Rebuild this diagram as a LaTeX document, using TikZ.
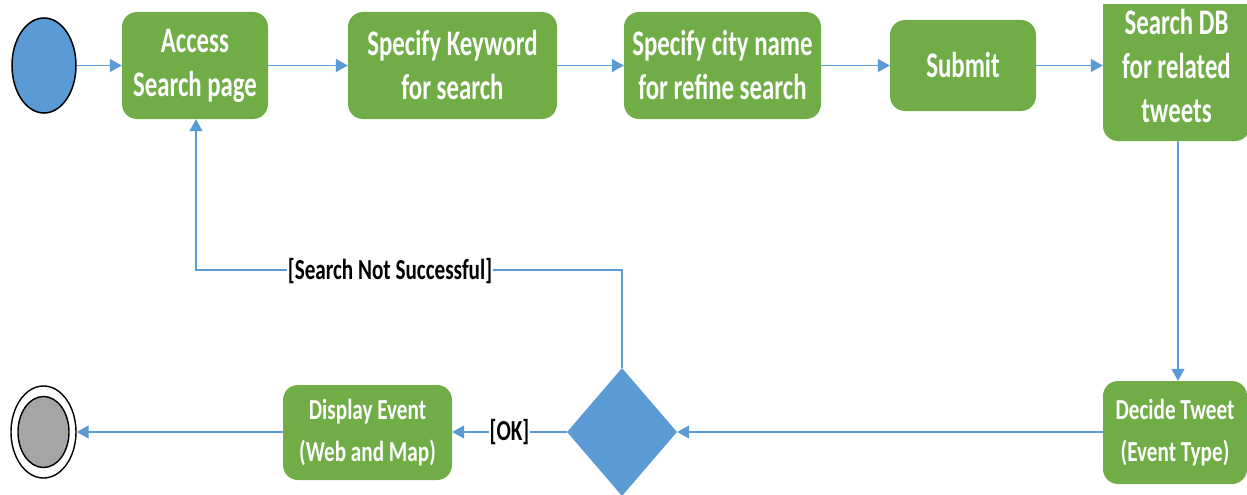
\documentclass[tikz,border=0pt]{standalone}
\usepackage{fontspec}
\setmainfont{Carlito}
\newfontfamily\boxfont{Carlito}[FakeStretch=0.69]
\newfontfamily\smallfont{Carlito}[FakeStretch=0.73]
\usetikzlibrary{shapes.geometric,arrows.meta}
\definecolor{actgreen}{RGB}{112,173,71}
\definecolor{flowblue}{RGB}{91,155,213}
\definecolor{endgray}{RGB}{165,165,165}
\tikzset{
  activity/.style={rectangle, rounded corners=15pt, fill=actgreen, text=white,
    align=center, inner sep=0pt,
    font=\boxfont\bfseries\fontsize{36}{44}\selectfont},
  smallact/.style={activity, font=\smallfont\bfseries\fontsize{29}{42}\selectfont},
  flow/.style={draw=flowblue, line width=1.6pt,
    -{Triangle[length=12pt,width=13pt]}},
  guard/.style={fill=white, inner sep=1pt, text=black,
    font=\smallfont\bfseries\fontsize{29}{34}\selectfont}
}
\begin{document}
\begin{tikzpicture}[x=1pt,y=-1pt]
\useasboundingbox (0,0) rectangle (1247,495);
\fill[white] (0,0) rectangle (1247,495);

% initial and final states
\node[ellipse, draw=black, line width=1.5pt, fill=flowblue,
  minimum width=64pt, minimum height=95pt, inner sep=0pt] (start) at (44,65.5) {};
\node[ellipse, draw=black, line width=1.4pt, fill=white,
  minimum width=65pt, minimum height=92pt, inner sep=0pt] (final) at (43.5,432) {};
\node[ellipse, draw=black, line width=1.4pt, fill=endgray,
  minimum width=51pt, minimum height=71pt, inner sep=0pt] (finalin) at (43.5,432) {};

% activities along the top row
\node[activity, minimum width=146pt, minimum height=107pt] (access) at (195,65.5)
  {Access\\Search page};
\node[activity, minimum width=209pt, minimum height=107pt] (keyword) at (452.5,65.5)
  {Specify Keyword\\for search};
\node[activity, minimum width=197pt, minimum height=107pt] (city) at (722.5,65.5)
  {Specify city name\\for refine search};
\node[activity, minimum width=146pt, minimum height=91pt] (submit) at (963,65.5)
  {Submit};
\begin{scope}
  \clip (1090,5) rectangle (1260,160);
  \node[activity, minimum width=147pt, minimum height=150pt] (searchdb) at (1176.5,66)
    {Search DB\\for related\\tweets};
\end{scope}

% bottom row
\node[smallact, minimum width=144pt, minimum height=103pt] (decide) at (1175,432.5)
  {Decide Tweet\\(Event Type)};
\node[diamond, fill=flowblue, minimum width=110pt, minimum height=128pt,
  inner sep=0pt] (choice) at (622,432) {};
\node[smallact, minimum width=169pt, minimum height=95pt] (display) at (367.5,432.5)
  {Display Event\\(Web and Map)};

% control flow
\draw[flow] (start.east) -- (access.west);
\draw[flow] (access.east) -- (keyword.west);
\draw[flow] (keyword.east) -- (city.west);
\draw[flow] (city.east) -- (submit.west);
\draw[flow] (submit.east) -- (searchdb.west |- submit.east);
\coordinate (dbfoot) at (1178,141);
\draw[flow] (dbfoot) -- (dbfoot |- decide.north);
\draw[flow] (decide.west |- choice.east) -- (choice.east);
\draw[flow] (choice.west) -- node[guard] (ok) {[OK]} (display.east |- choice.west);
\draw[flow] (display.west |- final.east) -- (final.east);

% retry loop back to the search page
\coordinate (loopR) at (622,270);
\coordinate (loopL) at (196,270);
\draw[draw=flowblue, line width=1.2pt, -{Triangle[length=12pt,width=13pt]}]
  (choice.north) -- (loopR) -- (loopL) -- (loopL |- access.south);
\node[guard] (fail) at (390,271) {[Search Not Successful]};
\end{tikzpicture}
\end{document}
